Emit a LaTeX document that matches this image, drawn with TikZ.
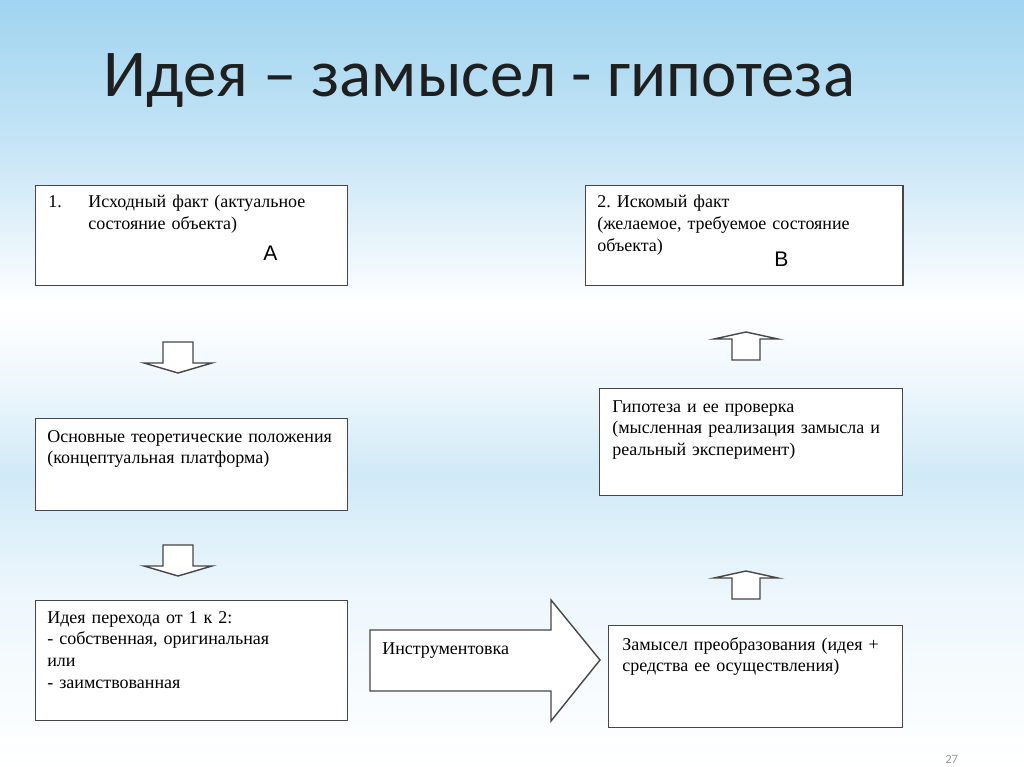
\documentclass[tikz,border=0pt]{standalone}
\usepackage{fontspec}
\setmainfont{Liberation Serif}
\newfontfamily\titlefont{Carlito}
\newfontfamily\letterfont{Liberation Sans}
\frenchspacing

\definecolor{skytop}{RGB}{160,212,240}
\definecolor{skymid}{RGB}{200,230,246}
\definecolor{skylow}{RGB}{208,234,247}
\definecolor{skypale}{RGB}{238,247,252}
\definecolor{linegray}{RGB}{70,70,70}
\pgfdeclareverticalshading{sky}{100bp}{color(0bp)=(white); color(25bp)=(white);
  color(36bp)=(skypale); color(44bp)=(skylow); color(50bp)=(skypale);
  color(55bp)=(white); color(65bp)=(skymid); color(75bp)=(skytop); color(100bp)=(skytop)}

\tikzset{
  box/.style={draw=linegray, line width=1pt, fill=white, anchor=north west, inner sep=0},
  txt/.style={anchor=base west, inner sep=0, text width=8cm, align=left,
    font=\fontsize{12.8}{15.6}\selectfont},
  blockarrow/.style={draw=linegray, line width=1pt, fill=white, line join=miter},
  dnarrow/.pic={\draw[blockarrow] (-15,0) -- (15,0) -- (15,21) -- (34,21) -- (0,31) -- (-34,21) -- (-15,21) -- cycle;},
  uparrow/.pic={\draw[blockarrow] (-14,0) -- (14,0) -- (14,-21) -- (32,-21) -- (0,-28) -- (-32,-21) -- (-14,-21) -- cycle;}
}

\begin{document}
\begin{tikzpicture}[x=0.025cm, y=-0.025cm]
	\useasboundingbox[shading=sky] (0,0) rectangle (1024,767);

	\node[anchor=base west, inner sep=0, text=black!88, font=\titlefont\fontsize{47.6}{52}\selectfont] (title) at (103,97) {Идея – замысел - гипотеза};

	\node[box, minimum width=7.8cm, minimum height=2.5cm] (fact1) at (35,185) {};
	\node[box, minimum width=7.925cm, minimum height=2.5cm] (fact2) at (585,185) {};
	\node[box, minimum width=7.8cm, minimum height=2.3cm] (theory) at (35,418) {};
	\node[box, minimum width=7.575cm, minimum height=2.675cm] (hypo) at (599,388) {};
	\node[box, minimum width=7.8cm, minimum height=3cm] (idea) at (35,600) {};
	\node[box, minimum width=7.35cm, minimum height=2.55cm] (plan) at (608,625) {};

	\node[txt, text width=1cm] (num1) at (48,208) {1.};
	\node[txt] (fact1txt) at (88,208) {Исходный факт (актуальное\\состояние объекта)};
	\node[anchor=base west, inner sep=0, font=\letterfont\fontsize{15}{18}\selectfont] (letA) at (263,260) {A};

	\node[txt] (fact2txt) at (597,208) {2. Искомый факт\\(желаемое, требуемое состояние\\объекта)};
	\node[anchor=base west, inner sep=0, font=\letterfont\fontsize{15}{18}\selectfont] (letB) at (774,267) {B};

	\node[txt] (theorytxt) at (47,442) {Основные теоретические положения\\(концептуальная платформа)};
	\node[txt] (hypotxt) at (612,412) {Гипотеза и ее проверка\\(мысленная реализация замысла и\\реальный эксперимент)};
	\node[txt] (ideatxt) at (47,623) {Идея перехода от 1 к 2:\\- собственная, оригинальная\\или\\- заимствованная};
	\node[txt] (plantxt) at (622,650) {Замысел преобразования (идея +\\средства ее осуществления)};

	\draw[blockarrow] (370,630) -- (551,630) -- (551,600) -- (600,660) -- (551,721) -- (551,691) -- (370,691) -- cycle;
	\node[txt] (tooltxt) at (382,654) {Инструментовка};

	\pic at (178,342) {dnarrow};
	\pic at (178,545) {dnarrow};
	\pic at (746,360) {uparrow};
	\pic at (746,599) {uparrow};

	\node[anchor=base west, inner sep=0, text=black!40, font=\titlefont\fontsize{9}{10}\selectfont] (page) at (945,763) {27};
\end{tikzpicture}
\end{document}
